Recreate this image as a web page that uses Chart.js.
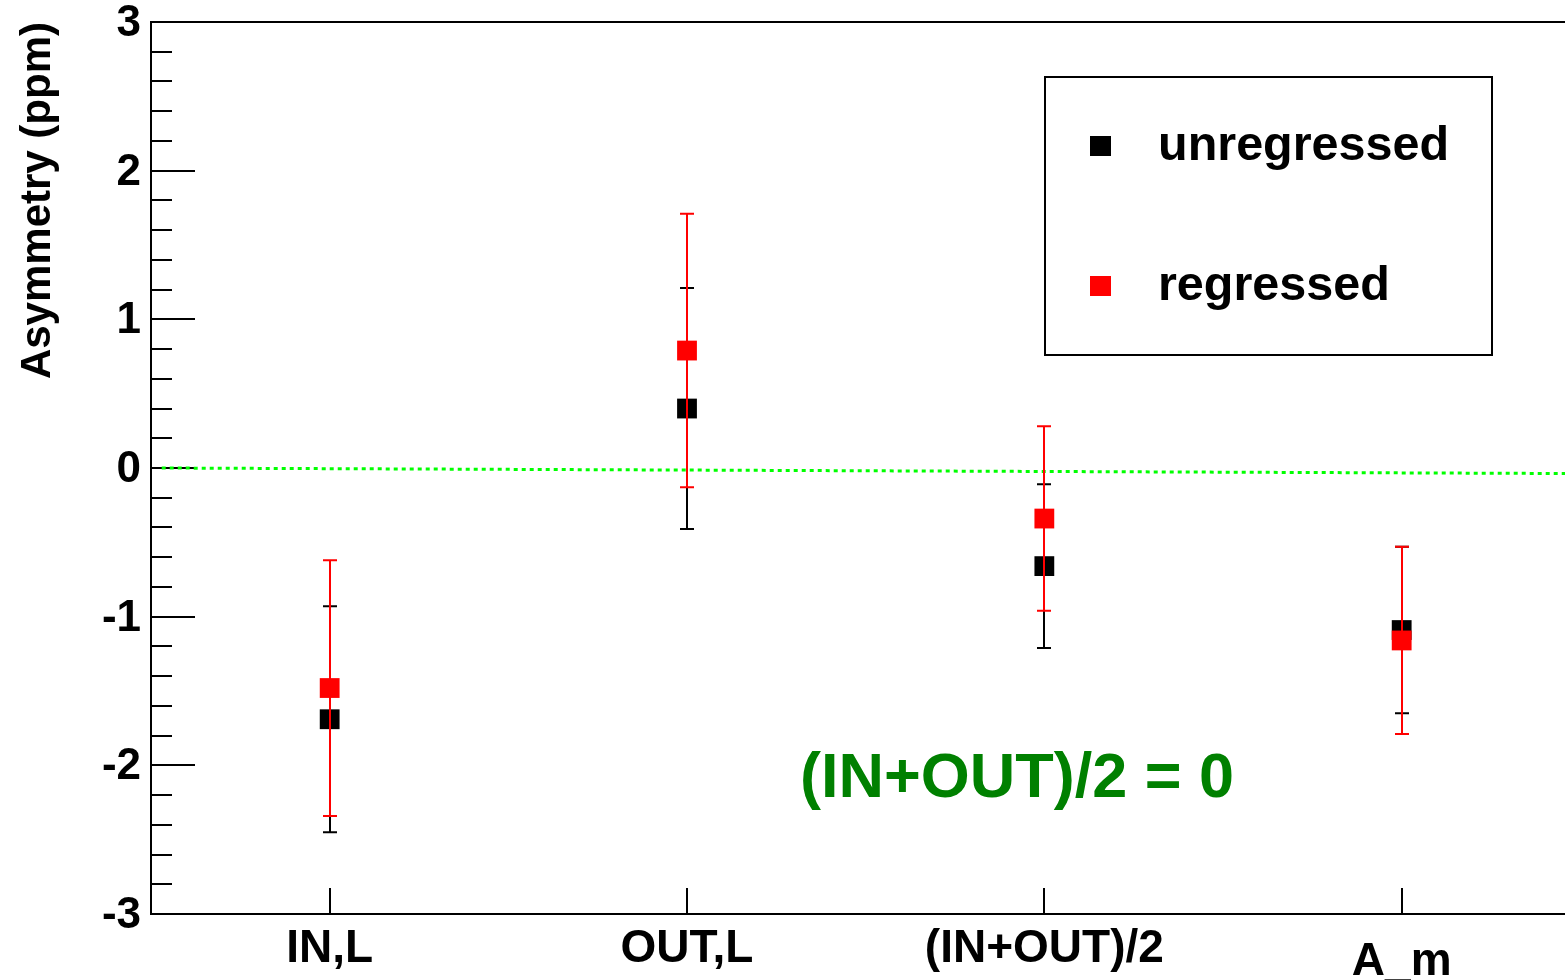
<!DOCTYPE html>
<html>
  <head>
    <meta charset="utf-8">
    <title>Asymmetry</title>
    <script src="https://cdn.jsdelivr.net/npm/chart.js"></script>
    <style>
      html, body {
        margin: 0;
        background: #ffffff;
        overflow: hidden;
      }
      canvas {
        display: block;
      }
    </style>
  </head>
  <body>
    <canvas id="asymChart" width="1600" height="980"></canvas>
    <script>
        // categories sit at the middle of each unit-wide bin
        const categories = ['IN,L', 'OUT,L', '(IN+OUT)/2', 'A_m'];
        const positions = [0.5, 1.5, 2.5, 3.5];

        const unregressed = [-1.69, 0.40, -0.66, -1.09];
        const unregressedErr = [0.76, 0.81, 0.55, 0.56];

        const regressed = [-1.48, 0.79, -0.34, -1.16];
        const regressedErr = [0.86, 0.92, 0.62, 0.63];

        // dotted reference line (slightly tilted, as drawn)
        const zeroLine = [{x: 0.03, y: 0}, {x: 4.05, y: -0.038}];

        const yTicks = [-3, -2, -1, 0, 1, 2, 3];

        const FONT = '"Liberation Sans", Arial, sans-serif';

        function toPoints(vals) {
            return positions.map((x, i) => ({x: x, y: vals[i]}));
        }

        // frame, inward tick marks and y tick labels
        const framePlugin = {
            id: 'frame',
            beforeDatasetsDraw(chart) {
                const {ctx, chartArea: a, scales: {x, y}} = chart;
                ctx.save();
                ctx.strokeStyle = '#000';
                ctx.lineWidth = 2;
                ctx.beginPath();
                ctx.moveTo(a.right + 5, a.top);
                ctx.lineTo(a.left, a.top);
                ctx.lineTo(a.left, a.bottom);
                ctx.lineTo(a.right + 5, a.bottom);
                ctx.stroke();

                ctx.beginPath();
                for (let k = 0; k <= 30; k++) {
                    const v = y.min + k * 0.2;
                    const py = Math.round(y.getPixelForValue(v));
                    const len = (k % 5 === 0) ? 44 : 21;
                    ctx.moveTo(a.left, py);
                    ctx.lineTo(a.left + len, py);
                }
                for (const p of positions) {
                    const px = Math.round(x.getPixelForValue(p));
                    ctx.moveTo(px, a.bottom);
                    ctx.lineTo(px, a.bottom - 26);
                }
                ctx.stroke();

                ctx.fillStyle = '#000';
                ctx.font = 'bold 44px ' + FONT;
                ctx.textAlign = 'right';
                ctx.textBaseline = 'middle';
                for (const t of yTicks) {
                    ctx.fillText(String(t), a.left - 10, y.getPixelForValue(t) + 2);
                }
                ctx.restore();
            }
        };

        // vertical error bars, drawn just before each series' markers
        const errorBarPlugin = {
            id: 'errorBars',
            beforeDatasetDraw(chart, args) {
                const ds = chart.data.datasets[args.index];
                if (!ds.errors) return;
                const {ctx, scales: {x, y}} = chart;
                ctx.save();
                ctx.strokeStyle = ds.backgroundColor;
                ctx.lineWidth = 2;
                ds.data.forEach((pt, i) => {
                    const px = Math.round(x.getPixelForValue(pt.x));
                    const top = y.getPixelForValue(pt.y + ds.errors[i]);
                    const bot = y.getPixelForValue(pt.y - ds.errors[i]);
                    ctx.beginPath();
                    ctx.moveTo(px, top);
                    ctx.lineTo(px, bot);
                    ctx.moveTo(px - 7, top);
                    ctx.lineTo(px + 7, top);
                    ctx.moveTo(px - 7, bot);
                    ctx.lineTo(px + 7, bot);
                    ctx.stroke();
                });
                ctx.restore();
            }
        };

        // category labels, legend box, annotation and axis title
        const textPlugin = {
            id: 'texts',
            afterDraw(chart) {
                const {ctx, chartArea: a, scales: {x}} = chart;
                ctx.save();
                ctx.fillStyle = '#000';
                ctx.font = 'bold 46px ' + FONT;
                ctx.textAlign = 'center';
                ctx.textBaseline = 'alphabetic';
                categories.forEach((c, i) => {
                    const px = x.getPixelForValue(positions[i]);
                    const base = (c === 'A_m') ? 975 : 962;
                    ctx.fillText(c, px, base);
                });

                // axis title
                ctx.save();
                ctx.translate(50, a.top);
                ctx.rotate(-Math.PI / 2);
                ctx.textAlign = 'right';
                ctx.font = 'bold 42px ' + FONT;
                ctx.fillText('Asymmetry (ppm)', 0, 0);
                ctx.restore();

                // legend
                ctx.lineWidth = 2;
                ctx.strokeStyle = '#000';
                ctx.strokeRect(1045, 77, 447, 278);
                ctx.textAlign = 'left';
                ctx.font = 'bold 48.5px ' + FONT;
                const entries = chart.data.datasets.filter(d => d.errors);
                entries.sort((p, q) => q.order - p.order);
                entries.forEach((d, i) => {
                    const cy = 146 + i * 140;
                    ctx.fillStyle = d.backgroundColor;
                    ctx.fillRect(1090, cy - 10, 21, 20);
                    ctx.fillStyle = '#000';
                    ctx.fillText(d.label, 1158, cy + 14);
                });

                // annotation
                ctx.fillStyle = '#008000';
                ctx.font = 'bold 63px ' + FONT;
                ctx.fillText('(IN+OUT)/2 = 0', 800, 797);
                ctx.restore();
            }
        };

        new Chart(document.getElementById('asymChart'), {
            type: 'scatter',
            data: {
                datasets: [
                    {
                        label: 'zero',
                        data: zeroLine,
                        showLine: true,
                        borderColor: '#00ff00',
                        borderWidth: 3,
                        borderDash: [4, 4],
                        pointRadius: 0,
                        order: 3
                    },
                    {
                        label: 'unregressed',
                        data: toPoints(unregressed),
                        errors: unregressedErr,
                        backgroundColor: '#000000',
                        borderWidth: 0,
                        pointStyle: 'rect',
                        pointRadius: 14,
                        order: 2
                    },
                    {
                        label: 'regressed',
                        data: toPoints(regressed),
                        errors: regressedErr,
                        backgroundColor: '#ff0000',
                        borderWidth: 0,
                        pointStyle: 'rect',
                        pointRadius: 14,
                        order: 1
                    }
                ]
            },
            options: {
                responsive: false,
                animation: false,
                devicePixelRatio: 1,
                layout: {
                    autoPadding: false,
                    padding: {left: 151, top: 22, right: 0, bottom: 66}
                },
                plugins: {
                    legend: {display: false},
                    tooltip: {enabled: false}
                },
                scales: {
                    x: {
                        type: 'linear',
                        min: 0,
                        max: 4.055,
                        display: false
                    },
                    y: {
                        min: -3,
                        max: 3,
                        display: false
                    }
                }
            },
            plugins: [framePlugin, errorBarPlugin, textPlugin]
        });
    </script>
  </body>
</html>
